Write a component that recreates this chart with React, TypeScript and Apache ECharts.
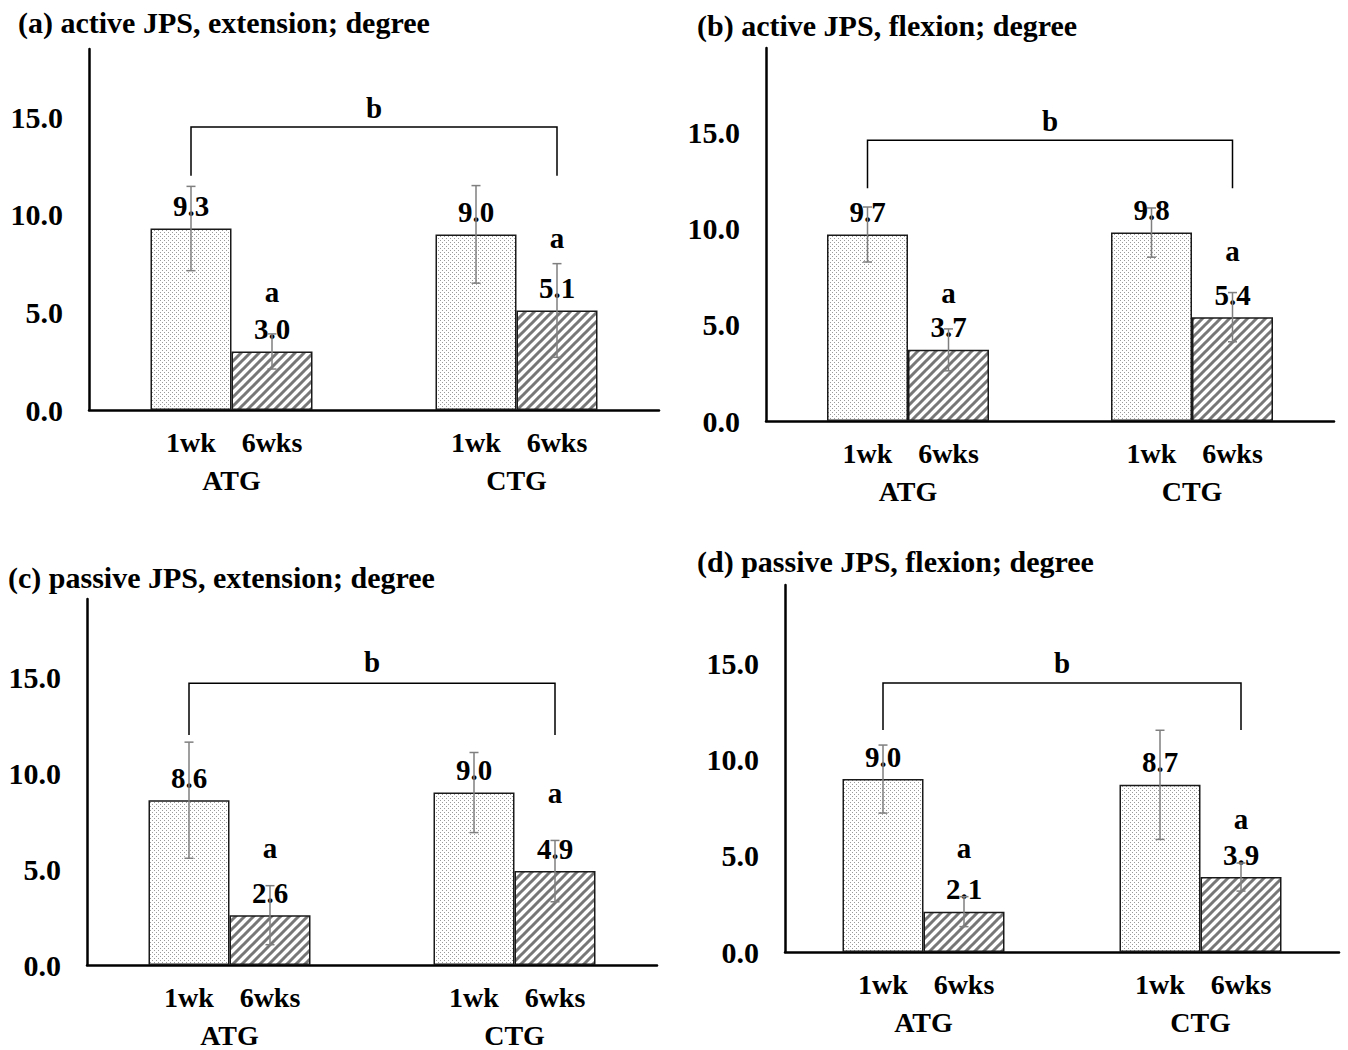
import React, { useEffect, useRef } from "react";
import * as echarts from "echarts";

// ---------- data ----------
const categories = ["ATG", "CTG"];
const timeLabels = ["1wk", "6wks"];
const panelTitles = [
  "(a) active JPS, extension; degree",
  "(b) active JPS, flexion; degree",
  "(c) passive JPS, extension; degree",
  "(d) passive JPS, flexion; degree",
];
const yTicks = [0, 5, 10, 15];
// means per panel: [ATG, CTG]
const week1Means = [
  [9.3, 9.0],
  [9.7, 9.8],
  [8.6, 9.0],
  [9.0, 8.7],
];
const week6Means = [
  [3.0, 5.1],
  [3.7, 5.4],
  [2.6, 4.9],
  [2.1, 3.9],
];
// standard deviations (error bars)
const week1SD = [
  [2.16, 2.5],
  [1.43, 1.28],
  [3.03, 2.09],
  [1.77, 2.84],
];
const week6SD = [
  [0.9, 2.4],
  [1.09, 1.28],
  [1.54, 1.6],
  [0.78, 0.73],
];
// height of the "a" significance letter above each 6wks bar
const letterAHeights = [
  [6.06, 8.83],
  [6.65, 8.85],
  [6.1, 9.0],
  [5.42, 6.9],
];
// bracket: [top line, leg end, "b" letter]
const bracketLevels = [
  [14.5, 12.0, 15.5],
  [14.6, 12.1, 15.6],
  [14.7, 12.0, 15.8],
  [14.0, 11.56, 15.05],
];
const yMaxes = [18.5, 19.4, 19.1, 19.1];

// ---------- layout / style ----------
const layouts = [
  { left: 89, top: 49, width: 570, height: 361, titleLeft: 18, titleTop: 7 },
  { left: 766, top: 48, width: 568, height: 373, titleLeft: 697, titleTop: 10 },
  { left: 87, top: 599, width: 570, height: 366, titleLeft: 8, titleTop: 562 },
  { left: 785, top: 585, width: 554, height: 367, titleLeft: 697, titleTop: 546 },
];
const FONT = '"Liberation Serif", "Times New Roman", serif';
const BAR_W = 81;
const HALF = BAR_W / 2;

function makeDotPattern() {
  const c = document.createElement("canvas");
  c.width = 4;
  c.height = 4;
  const g = c.getContext("2d")!;
  g.fillStyle = "#ffffff";
  g.fillRect(0, 0, 4, 4);
  g.fillStyle = "#9a9a9a";
  g.fillRect(0, 0, 1, 1);
  g.fillRect(2, 2, 1, 1);
  return c;
}

function makeHatchPattern() {
  const s = 9;
  const c = document.createElement("canvas");
  c.width = s;
  c.height = s;
  const g = c.getContext("2d")!;
  g.fillStyle = "#ffffff";
  g.fillRect(0, 0, s, s);
  g.strokeStyle = "#777777";
  g.lineWidth = 3;
  g.beginPath();
  g.moveTo(-1, s + 1);
  g.lineTo(s + 1, -1);
  g.moveTo(-s / 2 - 1, s / 2 + 1);
  g.lineTo(s / 2 + 1, -s / 2 - 1);
  g.moveTo(s / 2 - 1, s * 1.5 + 1);
  g.lineTo(s * 1.5 + 1, s / 2 - 1);
  g.stroke();
  return c;
}

export default function App() {
  const ref = useRef<HTMLDivElement>(null);

  useEffect(() => {
    if (!ref.current) return;
    const chart = echarts.init(ref.current, undefined, { renderer: "svg" });
    const dots = makeDotPattern();
    const hatch = makeHatchPattern();

    const textBold = { fontFamily: FONT, fontWeight: "bold" as const, color: "#000" };

    const grids: any[] = [];
    const xAxes: any[] = [];
    const yAxes: any[] = [];
    const titles: any[] = [];
    const series: any[] = [];

    layouts.forEach((L, p) => {
      grids.push({ left: L.left, top: L.top, width: L.width, height: L.height, containLabel: false });
      titles.push({
        text: panelTitles[p],
        left: L.titleLeft,
        top: L.titleTop,
        padding: 0,
        textStyle: { ...textBold, fontSize: 30, lineHeight: 30 },
      });
      xAxes.push({
        type: "category",
        gridIndex: p,
        data: categories,
        axisLine: { show: true, lineStyle: { color: "#000", width: 2.5 } },
        axisTick: { show: false },
        splitLine: { show: false },
        axisLabel: {
          interval: 0,
          margin: 13,
          formatter: (v: string) => `{w|${timeLabels[0]}}{w|${timeLabels[1]}}\n{g|${v}}`,
          rich: {
            w: { ...textBold, fontSize: 28, width: BAR_W, align: "center", lineHeight: 38 },
            g: { ...textBold, fontSize: 28, lineHeight: 38 },
          },
        },
      });
      yAxes.push({
        type: "value",
        gridIndex: p,
        min: 0,
        max: yMaxes[p],
        interval: 5,
        axisLine: { show: true, lineStyle: { color: "#000", width: 2.5 } },
        axisTick: { show: false },
        splitLine: { show: false },
        axisLabel: {
          ...textBold,
          fontSize: 30,
          margin: 26,
          formatter: (v: number) => (yTicks.indexOf(v) >= 0 ? v.toFixed(1) : ""),
        },
      });

      const barLabel = {
        show: true,
        position: "top",
        distance: 8,
        ...textBold,
        fontSize: 29,
        formatter: (d: any) => Number(d.value).toFixed(1),
      };

      series.push({
        type: "bar",
        name: timeLabels[0],
        xAxisIndex: p,
        yAxisIndex: p,
        data: week1Means[p],
        barWidth: BAR_W,
        barGap: "0%",
        itemStyle: { color: { image: dots, repeat: "repeat" }, borderColor: "#1a1a1a", borderWidth: 1.5 },
        label: barLabel,
        z: 2,
      });
      series.push({
        type: "bar",
        name: timeLabels[1],
        xAxisIndex: p,
        yAxisIndex: p,
        data: week6Means[p],
        barWidth: BAR_W,
        barGap: "0%",
        itemStyle: { color: { image: hatch, repeat: "repeat" }, borderColor: "#1a1a1a", borderWidth: 1.5 },
        label: barLabel,
        z: 2,
      });

      // error bars
      const errData: number[][] = [];
      categories.forEach((_, i) => {
        errData.push([i, week1Means[p][i], week1SD[p][i], -1]);
        errData.push([i, week6Means[p][i], week6SD[p][i], 1]);
      });
      series.push({
        type: "custom",
        xAxisIndex: p,
        yAxisIndex: p,
        data: errData,
        clip: false,
        z: 5,
        silent: true,
        renderItem: (_params: any, api: any) => {
          const x = api.value(0);
          const v = api.value(1);
          const sd = api.value(2);
          const side = api.value(3);
          const top = api.coord([x, v + sd]);
          const bot = api.coord([x, v - sd]);
          const cx = top[0] + side * HALF;
          const st = { stroke: "#7f7f7f", lineWidth: 1.5 };
          return {
            type: "group",
            children: [
              { type: "line", shape: { x1: cx, y1: top[1], x2: cx, y2: bot[1] }, style: st },
              { type: "line", shape: { x1: cx - 4.5, y1: top[1], x2: cx + 4.5, y2: top[1] }, style: st },
              { type: "line", shape: { x1: cx - 4.5, y1: bot[1], x2: cx + 4.5, y2: bot[1] }, style: st },
            ],
          };
        },
      });

      // "a" letters above 6wks bars
      series.push({
        type: "custom",
        xAxisIndex: p,
        yAxisIndex: p,
        data: categories.map((_, i) => [i, letterAHeights[p][i]]),
        clip: false,
        z: 6,
        silent: true,
        renderItem: (_params: any, api: any) => {
          const pt = api.coord([api.value(0), api.value(1)]);
          return {
            type: "text",
            x: pt[0] + HALF,
            y: pt[1],
            style: {
              text: "a",
              fill: "#000",
              font: `bold 29px ${FONT}`,
              align: "center",
              verticalAlign: "middle",
              textAlign: "center",
              textVerticalAlign: "middle",
            },
          };
        },
      });

      // bracket with "b"
      const [yTop, yEnd, yB] = bracketLevels[p];
      series.push({
        type: "custom",
        xAxisIndex: p,
        yAxisIndex: p,
        data: [[0, 1, yTop, yEnd, yB]],
        clip: false,
        z: 6,
        silent: true,
        renderItem: (_params: any, api: any) => {
          const c0 = api.value(0);
          const c1 = api.value(1);
          const t = api.value(2);
          const e = api.value(3);
          const b = api.value(4);
          const pTop0 = api.coord([c0, t]);
          const pEnd0 = api.coord([c0, e]);
          const pTop1 = api.coord([c1, t]);
          const pB = api.coord([c0, b]);
          const x0 = pTop0[0] - HALF;
          const x1 = pTop1[0] + HALF;
          return {
            type: "group",
            children: [
              {
                type: "polyline",
                shape: {
                  points: [
                    [x0, pEnd0[1]],
                    [x0, pTop0[1]],
                    [x1, pTop0[1]],
                    [x1, pEnd0[1]],
                  ],
                },
                style: { stroke: "#000", lineWidth: 1.5, fill: null },
              },
              {
                type: "text",
                x: (x0 + x1) / 2,
                y: pB[1],
                style: {
                  text: "b",
                  fill: "#000",
                  font: `bold 29px ${FONT}`,
                  align: "center",
                  verticalAlign: "middle",
                  textAlign: "center",
                  textVerticalAlign: "middle",
                },
              },
            ],
          };
        },
      });
    });

    chart.setOption({
      animation: false,
      backgroundColor: "#ffffff",
      title: titles,
      grid: grids,
      xAxis: xAxes,
      yAxis: yAxes,
      series,
    });

    return () => {
      chart.dispose();
    };
  }, []);

  return (
    <div
      ref={ref}
      style={{ position: "absolute", left: 0, top: 0, width: 1348, height: 1050, background: "#fff" }}
    />
  );
}
